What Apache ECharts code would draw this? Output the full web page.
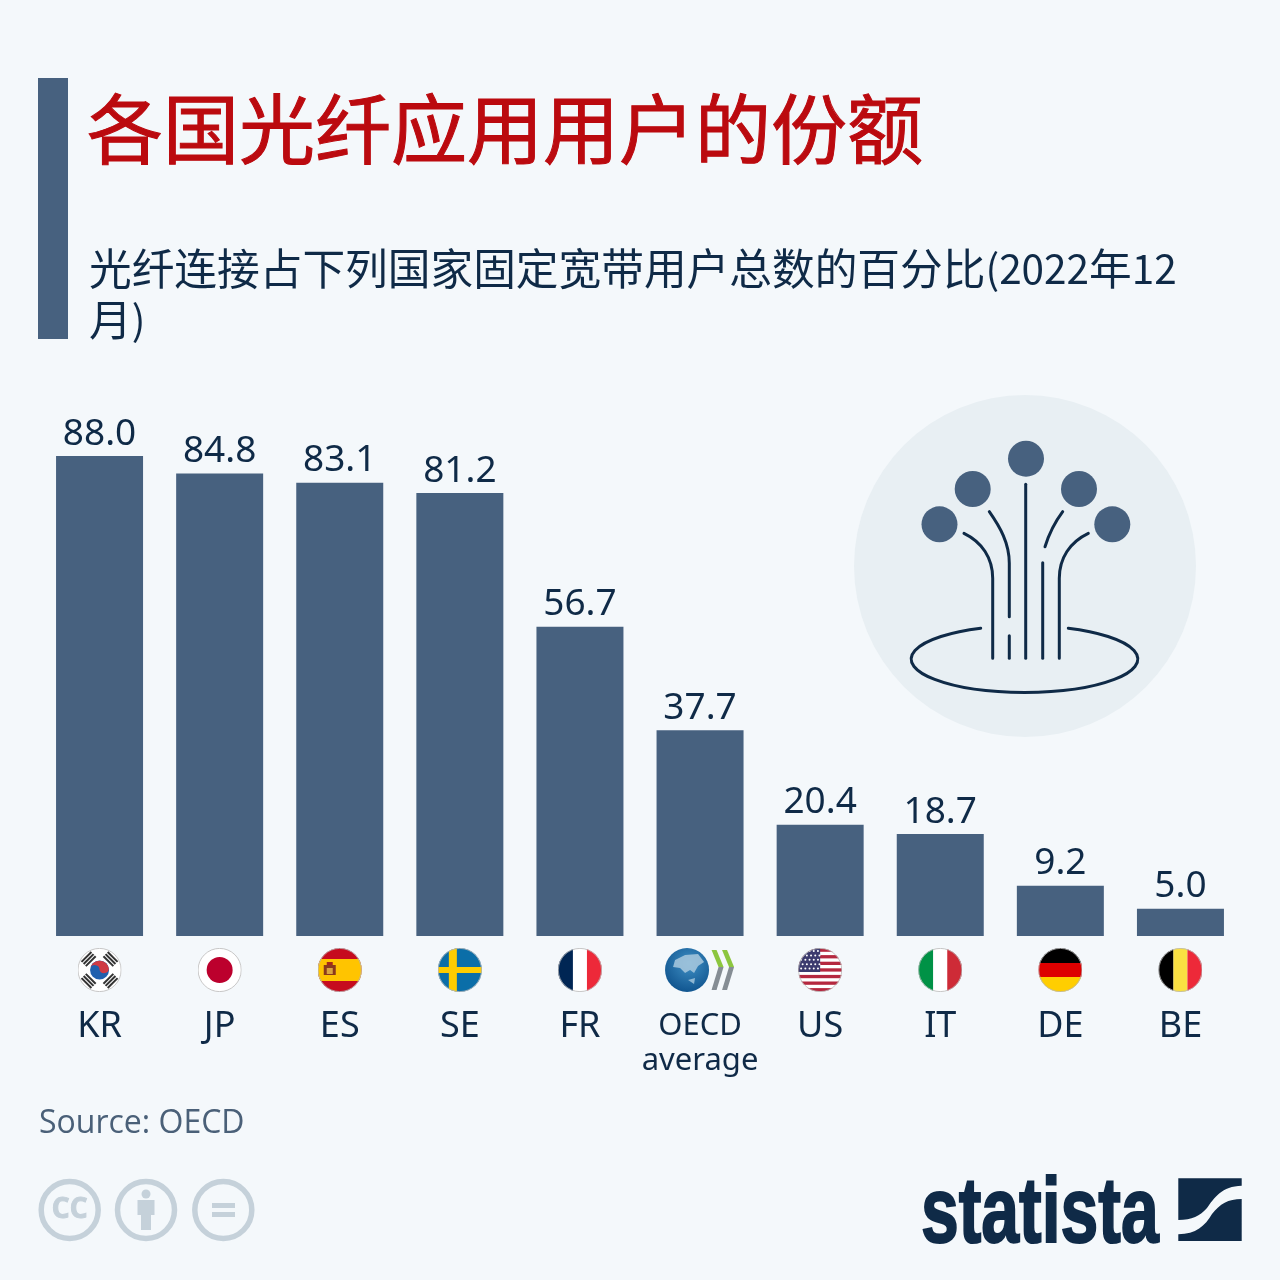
<!DOCTYPE html>
<html>
<head>
<meta charset="utf-8">
<style>
  html, body { margin: 0; padding: 0; background: #f4f8fb; }
  #chart { width: 1280px; height: 1280px; }
</style>
<script src="https://cdn.jsdelivr.net/npm/echarts@6/dist/echarts.min.js"></script>
</head>
<body>
<div id="chart"></div>
<script>
const categories = ['KR', 'JP', 'ES', 'SE', 'FR', 'OECD average', 'US', 'IT', 'DE', 'BE'];
const shares = [88.0, 84.8, 83.1, 81.2, 56.7, 37.7, 20.4, 18.7, 9.2, 5.0];
const titleText = '各国光纤应用用户的份额';
const subtitleText = '{cjk|光纤连接占下列国家固定宽带用户总数的百分比}{num|(2022}{cjk|年}{num|12}\n{cjk|月}{num|)}';
const sourceText = 'Source: OECD';

const NAVY = '#0f2a47';
const BAR = '#47617f';
const CJK = '"Noto Sans CJK SC", "Noto Sans", sans-serif';
const LATIN = '"Noto Sans", "Open Sans", sans-serif';

function svgUri(w, h, body) {
  const svg = '<svg xmlns="http://www.w3.org/2000/svg" width="' + w + '" height="' + h + '" viewBox="0 0 ' + w + ' ' + h + '">' + body + '</svg>';
  return 'data:image/svg+xml;charset=utf-8,' + encodeURIComponent(svg);
}

// round flag, everything clipped to the 44px disc
function flag(body, ring) {
  return svgUri(44, 44,
    '<defs><clipPath id="c"><circle cx="22" cy="22" r="22"/></clipPath></defs>' +
    '<g clip-path="url(#c)">' + body + '</g>' +
    '<circle cx="22" cy="22" r="21.6" fill="none" stroke="' + (ring || '#b9b9b9') + '" stroke-width="0.8"/>');
}

function r(x, y, w, h, c) {
  return '<rect x="' + x + '" y="' + y + '" width="' + w + '" height="' + h + '" fill="' + c + '"/>';
}

function usStripes() {
  let s = r(0, 0, 44, 44, '#fff');
  for (let i = 0; i < 7; i++) s += r(0, i * 6.6 + 0.5, 44, 3.3, '#b5283f');
  s += r(0, 0, 22, 24, '#3c3b6e');
  for (let row = 0; row < 5; row++) {
    for (let col = 0; col < 5; col++) {
      s += '<circle cx="' + (3 + col * 4.2 + (row % 2) * 1.5) + '" cy="' + (3 + row * 4.4) + '" r="1" fill="#fff"/>';
    }
  }
  return s;
}

function krFlag() {
  const bars = [-45, 45, 135, 225].map(function (deg) {
    const t = 'rotate(' + deg + ' 22 22)';
    return '<g transform="' + t + '">' +
      r(15, 2.5, 14, 2, '#333') + r(15, 5.5, 14, 2, '#333') + r(15, 8.5, 14, 2, '#333') + '</g>';
  }).join('');
  return r(0, 0, 44, 44, '#fff') + bars +
    '<circle cx="22" cy="22" r="9.5" fill="#1f5fae"/>' +
    '<path d="M12.7 20.2 A9.5 9.5 0 0 1 31.3 20.2 A4.8 4.8 0 0 1 22 22 A4.8 4.8 0 0 0 12.7 20.2 Z" fill="#cf3a44"/>';
}

function oecdMark() {
  const chev = function (x) {
    return '<polygon points="' + x + ',2 ' + (x + 5) + ',2 ' + (x + 12) + ',19 ' + (x + 7) + ',19" fill="#8cc63f"/>' +
      '<polygon points="' + (x + 7) + ',19 ' + (x + 12) + ',19 ' + (x + 5) + ',42 ' + x + ',42" fill="#858d94"/>';
  };
  return svgUri(70, 44,
    '<defs><radialGradient id="g" cx="0.55" cy="0.35" r="0.75"><stop offset="0" stop-color="#3f8fc4"/><stop offset="1" stop-color="#0a4d88"/></radialGradient></defs>' +
    '<circle cx="22" cy="22" r="22" fill="url(#g)"/>' +
    '<path d="M10 12 L20 7 L33 6 L39 14 L33 18 L29 25 L25 22 L20 25 L15 20 L8 19 Z" fill="#a9c9de" opacity="0.85"/>' +
    '<path d="M23 32 L30 30 L29 36 Z" fill="#a9c9de" opacity="0.8"/>' +
    chev(46.5) + chev(57));
}

const flagImages = {
  KR: flag(krFlag()),
  JP: flag(r(0, 0, 44, 44, '#fff') + '<circle cx="22" cy="22" r="13" fill="#bc002d"/>'),
  ES: flag(r(0, 0, 44, 44, '#c60b1e') + r(0, 11, 44, 22, '#ffc400') +
    r(6, 17, 12, 10, '#8a3a1c') + r(9, 14, 6, 3, '#a5281b') + r(9, 20, 6, 6, '#d9a441')),
  SE: flag(r(0, 0, 44, 44, '#0b6ea8') + r(11, 0, 8, 44, '#fecc00') + r(0, 19, 44, 6, '#fecc00')),
  FR: flag(r(0, 0, 15, 44, '#002654') + r(15, 0, 14, 44, '#fff') + r(29, 0, 15, 44, '#ed2939')),
  US: flag(usStripes()),
  IT: flag(r(0, 0, 15, 44, '#009246') + r(15, 0, 14, 44, '#fff') + r(29, 0, 15, 44, '#ce2b37')),
  DE: flag(r(0, 0, 44, 15, '#000') + r(0, 15, 44, 14, '#dd0000') + r(0, 29, 44, 15, '#ffce00')),
  BE: flag(r(0, 0, 15, 44, '#000') + r(15, 0, 14, 44, '#fae042') + r(29, 0, 15, 44, '#ed2939'))
};

const axisRich = {
  code: { fontFamily: LATIN, fontSize: 36, color: NAVY, lineHeight: 70, align: 'center' },
  oecd1: { fontFamily: LATIN, fontSize: 31, color: NAVY, lineHeight: 68, align: 'center' },
  oecd2: { fontFamily: LATIN, fontSize: 31, color: NAVY, lineHeight: 2, align: 'center' },
  OECD: { width: 70, height: 44, align: 'center', backgroundColor: { image: oecdMark() } }
};
Object.keys(flagImages).forEach(function (k) {
  axisRich[k] = { width: 44, height: 44, align: 'center', backgroundColor: { image: flagImages[k] } };
});

// illustration and logo mark, page coordinates
const iconImage = svgUri(1280, 1280,
  '<circle cx="1025" cy="566" r="171" fill="#e8eff3"/>' +
  [[939.5, 524.3], [972.7, 489], [1026, 458.7], [1079, 489], [1112.3, 524.3]].map(function (c) {
    return '<circle cx="' + c[0] + '" cy="' + c[1] + '" r="18" fill="' + BAR + '"/>';
  }).join('') +
  '<g fill="none" stroke="' + NAVY + '" stroke-width="3" stroke-linecap="round">' +
  '<path d="M964 533.3 C982 542 992.7 558 992.7 578.3 V658.3"/>' +
  '<path d="M989.3 511.7 C1000 527 1009.3 543 1009.3 563.3 V616.7"/>' +
  '<path d="M1009.3 635.7 V658.3"/>' +
  '<path d="M1025.7 484.3 V658.3"/>' +
  '<path d="M1042.7 562.7 V658.3"/>' +
  '<path d="M1045 546.7 C1049 534 1055 522 1062.7 511.7"/>' +
  '<path d="M1059.3 658.3 V578.3 C1059.3 558 1070 542 1088.3 533.3"/>' +
  '<path d="M1068.3 628.3 A113.3 33.4 0 1 1 980.7 628.3"/>' +
  '</g>' +
  '<path d="M1178.3 1178.3 H1241.7 V1185.7 C1222 1186 1214 1198 1207 1208 C1200 1216 1192 1220 1178.3 1220 Z" fill="' + NAVY + '"/>' +
  '<path d="M1241.7 1199 V1241 H1178.3 V1234.3 C1196 1234 1205 1226 1212 1214 C1220 1204 1228 1199 1241.7 1199 Z" fill="' + NAVY + '"/>');

const GREY = '#c5d1da';

const chart = echarts.init(document.getElementById('chart'));
chart.setOption({
  animation: false,
  backgroundColor: '#f4f8fb',
  title: [
    { text: titleText, left: 82, top: 86, textStyle: { fontFamily: CJK, fontSize: 76, fontWeight: 'normal', color: '#bb0a0f', textBorderColor: '#bb0a0f', textBorderWidth: 1 } },
    {
      text: subtitleText,
      left: 84,
      top: 238,
      textStyle: {
        fontWeight: 'normal',
        rich: {
          cjk: { fontFamily: CJK, fontSize: 42.7, fontWeight: 'normal', color: NAVY, lineHeight: 51 },
          num: { fontFamily: CJK, fontSize: 40.5, fontWeight: 'normal', color: NAVY, lineHeight: 51 }
        }
      }
    },
    { text: sourceText, left: 34, top: 1103, textStyle: { fontFamily: '"Open Sans", sans-serif', fontSize: 32, fontWeight: 'normal', color: '#4a6078' } }
  ],
  grid: { left: 39.5, right: 39.5, top: 390.5, bottom: 344 },
  xAxis: {
    type: 'category',
    data: categories,
    axisLine: { show: false },
    axisTick: { show: false },
    axisLabel: {
      interval: 0,
      margin: 12,
      formatter: function (v) {
        if (v === 'OECD average') return '{OECD|}\n{oecd1|OECD}\n{oecd2|average}';
        return '{' + v + '|}\n{code|' + v + '}';
      },
      rich: axisRich
    }
  },
  yAxis: { type: 'value', min: 0, max: 100, show: false },
  series: [{
    type: 'bar',
    data: shares,
    barWidth: 87,
    itemStyle: { color: BAR },
    label: {
      show: true,
      position: 'top',
      distance: 3.5,
      fontFamily: LATIN,
      fontSize: 37,
      color: NAVY,
      formatter: function (p) { return p.value.toFixed(1); }
    }
  }],
  graphic: [
    { type: 'rect', shape: { x: 38, y: 78, width: 30, height: 261 }, style: { fill: BAR } },
    { type: 'image', z: -1, style: { image: iconImage, x: 0, y: 0, width: 1280, height: 1280 } },
    { type: 'text', x: 921, y: 1170, scaleX: 0.73, style: { text: 'statista', fontFamily: '"Liberation Sans", sans-serif', fontWeight: 'bold', fontSize: 93, fill: NAVY, stroke: NAVY, lineWidth: 2 } },
    { type: 'circle', shape: { cx: 69.7, cy: 1210, r: 28.5 }, style: { fill: 'none', stroke: GREY, lineWidth: 5.5 } },
    { type: 'text', style: { x: 69.7, y: 1210, text: 'CC', align: 'center', verticalAlign: 'middle', fontFamily: '"Open Sans", sans-serif', fontWeight: 'bold', fontSize: 28, fill: GREY, stroke: GREY, lineWidth: 1 } },
    { type: 'circle', shape: { cx: 146, cy: 1210, r: 28.5 }, style: { fill: 'none', stroke: GREY, lineWidth: 5.5 } },
    { type: 'circle', shape: { cx: 146, cy: 1194, r: 4.5 }, style: { fill: GREY } },
    { type: 'rect', shape: { x: 137.5, y: 1200, width: 17, height: 15 }, style: { fill: GREY } },
    { type: 'rect', shape: { x: 141, y: 1215, width: 10, height: 15 }, style: { fill: GREY } },
    { type: 'circle', shape: { cx: 223.3, cy: 1210, r: 28.5 }, style: { fill: 'none', stroke: GREY, lineWidth: 5.5 } },
    { type: 'rect', shape: { x: 212, y: 1203, width: 23, height: 5 }, style: { fill: GREY } },
    { type: 'rect', shape: { x: 212, y: 1212, width: 23, height: 5 }, style: { fill: GREY } }
  ]
});
</script>
</body>
</html>
